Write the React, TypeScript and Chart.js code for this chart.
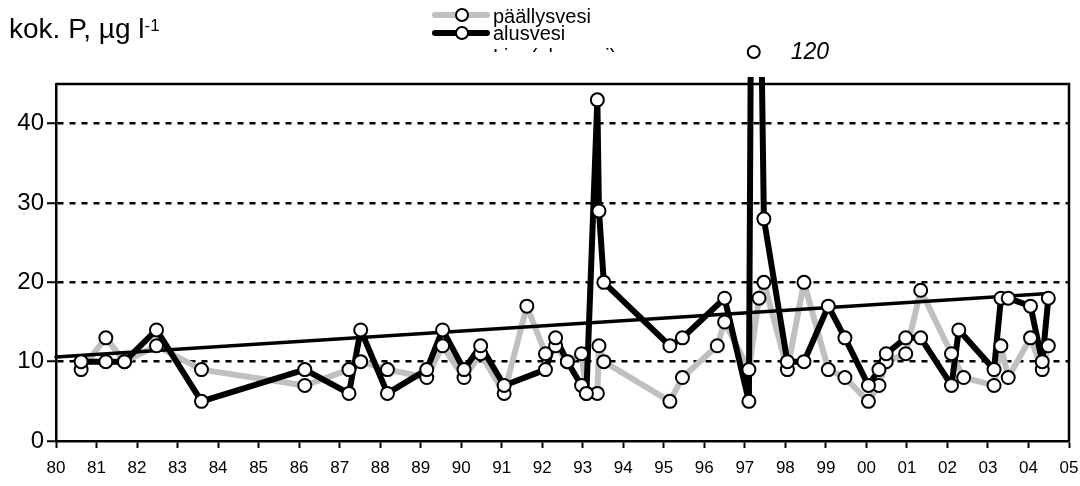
import React, { useEffect, useRef } from "react";
import { Chart, registerables } from "chart.js";

Chart.register(...registerables);

// päällysvesi (surface water), grey series
const surfaceYears = [
  80.62, 81.23, 81.69, 82.48, 83.59, 86.14, 87.23, 87.52, 88.18, 89.15, 89.54, 90.07, 90.48, 91.06,
  91.62, 92.08, 92.33, 92.62, 92.97, 93.09, 93.36, 93.4, 93.52, 95.15, 95.46, 96.32, 96.5, 97.1,
  97.35, 97.47, 98.05, 98.46, 99.06, 99.47, 100.05, 100.31, 100.49, 100.97, 101.34, 102.1, 102.4,
  103.15, 103.32, 103.5, 104.05, 104.34, 104.49,
];
const surfaceValues = [
  9, 13, 10, 12, 9, 7, 9, 10, 9, 8, 12, 8, 11, 6,
  17, 11, 12, 10, 11, 6, 6, 12, 10, 5, 8, 12, 15, 9,
  18, 20, 9, 20, 9, 8, 5, 7, 10, 11, 19, 11, 8,
  7, 12, 8, 13, 9, 12,
];

// alusvesi (bottom water), black series
const bottomYears = [
  80.62, 81.23, 81.69, 82.48, 83.59, 86.14, 87.23, 87.52, 88.18, 89.15, 89.54, 90.07, 90.48, 91.06,
  92.08, 92.33, 92.62, 92.97, 93.09, 93.36, 93.4, 93.52, 95.15, 95.46, 96.5, 97.1, 97.22, 97.47,
  98.05, 98.46, 99.06, 99.47, 100.05, 100.31, 100.49, 100.97, 101.34, 102.1, 102.28, 103.15,
  103.32, 103.5, 104.05, 104.34, 104.49,
];
const bottomValues = [
  10, 10, 10, 14, 5, 9, 6, 14, 6, 9, 14, 9, 12, 7,
  9, 13, 10, 7, 6, 43, 29, 20, 12, 13, 18, 5, 120, 28,
  10, 10, 17, 13, 7, 9, 11, 13, 13, 7, 14, 9,
  18, 18, 17, 10, 18,
];

// linear trend of alusvesi (end points)
const trendYears = [80, 104.49];
const trendValues = [10.6, 18.6];

const yTickValues = [0, 10, 20, 30, 40];
const xTickLabels = [
  "80", "81", "82", "83", "84", "85", "86", "87", "88", "89", "90", "91", "92",
  "93", "94", "95", "96", "97", "98", "99", "00", "01", "02", "03", "04", "05",
];
const xStart = 80;

const FONT = "'Liberation Sans', Arial, Helvetica, sans-serif";
const GREY = "#c0c0c0";

const zip = (xs: number[], ys: number[]) => xs.map((x, i) => ({ x, y: ys[i] }));

const framePlugin = {
  id: "frameAndOffscale",
  afterDraw(chart: any) {
    const { ctx, chartArea: a, scales } = chart;
    ctx.save();
    ctx.strokeStyle = "#000";
    ctx.lineWidth = 2.5;
    ctx.beginPath();
    ctx.moveTo(a.left, a.top);
    ctx.lineTo(a.right, a.top);
    ctx.lineTo(a.right, a.bottom);
    ctx.stroke();
    // off-scale value marker
    bottomYears.forEach((yr, i) => {
      const v = bottomValues[i];
      if (v > scales.y.max) {
        const x = scales.x.getPixelForValue(yr);
        const y = a.top - 32;
        ctx.beginPath();
        ctx.arc(x, y, 6, 0, Math.PI * 2);
        ctx.fillStyle = "#fff";
        ctx.fill();
        ctx.lineWidth = 2;
        ctx.strokeStyle = "#000";
        ctx.stroke();
        ctx.fillStyle = "#000";
        ctx.font = `italic 23px ${FONT}`;
        ctx.textAlign = "left";
        ctx.textBaseline = "middle";
        ctx.fillText(String(v), x + 37, y + 1);
      }
    });
    ctx.restore();
  },
};

export default function App() {
  const ref = useRef<HTMLCanvasElement | null>(null);

  useEffect(() => {
    if (!ref.current) return;
    const pointStyle = {
      pointRadius: 6.5,
      pointBorderWidth: 2,
      pointBackgroundColor: "#fff",
      pointBorderColor: "#000",
      pointHoverRadius: 6.5,
    };
    const clip = { left: 6, right: 6, top: 7, bottom: 6 };
    const chart = new Chart(ref.current, {
      type: "line",
      data: {
        datasets: [
          {
            label: "päällysvesi",
            data: zip(surfaceYears, surfaceValues),
            borderColor: GREY,
            borderWidth: 6,
            pointRadius: 0,
            order: 5,
            clip,
          },
          {
            label: "alusvesi",
            data: zip(bottomYears, bottomValues),
            borderColor: "#000",
            borderWidth: 6,
            pointRadius: 0,
            order: 4,
            clip,
          },
          {
            label: "trend",
            data: zip(trendYears, trendValues),
            borderColor: "#000",
            borderWidth: 3.5,
            pointRadius: 0,
            order: 3,
            clip,
          },
          {
            label: "päällysvesi points",
            data: zip(surfaceYears, surfaceValues),
            showLine: false,
            ...pointStyle,
            order: 2,
          },
          {
            label: "alusvesi points",
            data: zip(bottomYears, bottomValues),
            showLine: false,
            ...pointStyle,
            order: 1,
          },
        ],
      } as any,
      options: {
        responsive: false,
        animation: false,
        events: [],
        layout: { padding: { left: 0, top: 84, right: 11, bottom: 0 } },
        plugins: {
          legend: { display: false },
          tooltip: { enabled: false },
          title: { display: false },
        },
        elements: { line: { tension: 0, borderCapStyle: "round", borderJoinStyle: "round" } },
        scales: {
          x: {
            type: "linear",
            min: 80,
            max: 105,
            afterBuildTicks: (s: any) => {
              s.ticks = xTickLabels.map((_, i) => ({ value: xStart + i }));
            },
            afterFit: (s: any) => {
              s.height = 45;
              s.paddingLeft = 0;
              s.paddingRight = 0;
            },
            ticks: {
              autoSkip: false,
              maxRotation: 0,
              minRotation: 0,
              color: "#000",
              padding: 10,
              font: { family: FONT, size: 17 },
              callback: (v: any) => xTickLabels[Math.round(Number(v) - xStart)] ?? "",
            },
            grid: {
              drawOnChartArea: false,
              drawTicks: true,
              tickLength: 7,
              tickWidth: 2,
              tickColor: "#000",
            },
            border: { display: true, color: "#000", width: 2.5 },
          },
          y: {
            type: "linear",
            min: 0,
            max: 45,
            afterBuildTicks: (s: any) => {
              s.ticks = yTickValues.map((v) => ({ value: v }));
            },
            afterFit: (s: any) => {
              s.width = 56;
              s.paddingTop = 0;
              s.paddingBottom = 0;
            },
            ticks: {
              color: "#000",
              padding: 3,
              font: { family: FONT, size: 24 },
            },
            grid: {
              color: (c: any) => (c.tick && c.tick.value === 0 ? "rgba(0,0,0,0)" : "#000"),
              lineWidth: 2.5,
              drawTicks: true,
              tickLength: 9,
              tickWidth: 2,
              tickColor: "#000",
              tickBorderDash: [],
            } as any,
            border: { display: true, color: "#000", width: 2.5, dash: [6, 6] },
          },
        },
      } as any,
      plugins: [framePlugin],
    });
    return () => chart.destroy();
  }, []);

  const lineBase: React.CSSProperties = {
    position: "absolute",
    left: 432,
    width: 58,
    borderRadius: 3,
  };
  const marker: React.CSSProperties = {
    position: "absolute",
    width: 10,
    height: 10,
    borderRadius: "50%",
    border: "2px solid #000",
    background: "#fff",
  };

  return (
    <div
      style={{
        position: "absolute",
        left: 0,
        top: 0,
        width: 1080,
        height: 486,
        background: "#fff",
        fontFamily: FONT,
        color: "#000",
        overflow: "hidden",
      }}
    >
      <canvas ref={ref} width={1080} height={486} style={{ position: "absolute", left: 0, top: 0 }} />
      <div style={{ position: "absolute", left: 9, top: 12, fontSize: 28, lineHeight: "34px", whiteSpace: "nowrap" }}>
        kok. P, µg l<sup style={{ fontSize: 17, verticalAlign: "top", position: "relative", top: -3 }}>-1</sup>
      </div>
      {/* legend */}
      <div style={{ ...lineBase, top: 12, height: 6, background: GREY }} />
      <div style={{ ...marker, left: 455, top: 8 }} />
      <div style={{ ...lineBase, top: 30, height: 6, background: "#000" }} />
      <div style={{ ...marker, left: 455, top: 26 }} />
      <div
        style={{
          position: "absolute",
          left: 493,
          top: 8,
          height: 44,
          overflow: "hidden",
          fontSize: 20,
          lineHeight: "17px",
          whiteSpace: "nowrap",
        }}
      >
        <div>päällysvesi</div>
        <div>alusvesi</div>
        <div style={{ position: "relative", top: 6 }}>Lin. (alusvesi)</div>
      </div>
    </div>
  );
}
